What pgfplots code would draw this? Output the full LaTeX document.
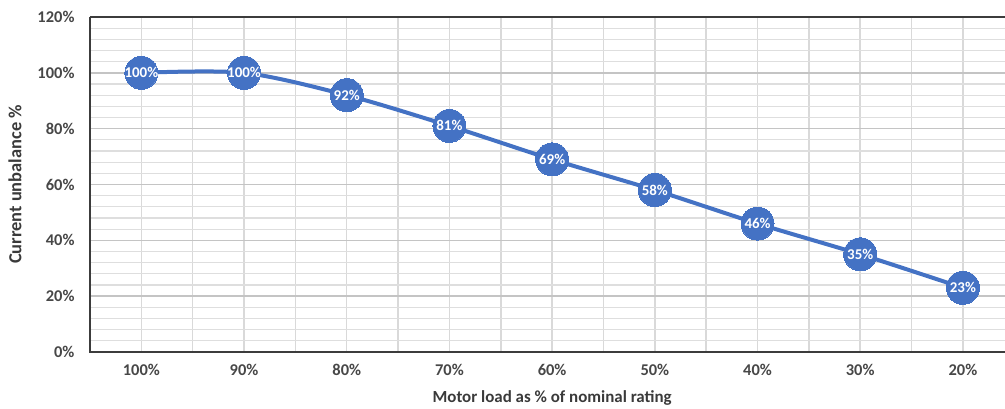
\documentclass[border=0pt]{standalone}
\usepackage{pgfplots}
\pgfplotsset{compat=1.18}
\usepackage{fontspec}
\setmainfont{Carlito}
\definecolor{series}{HTML}{4472C4}
\definecolor{majorgrid}{HTML}{C4C4C4}
\definecolor{minorgrid}{HTML}{DEDEDE}
\definecolor{vgrid}{HTML}{D9D9D9}
\definecolor{ticktext}{HTML}{474747}
\definecolor{labeltext}{HTML}{3A3A3A}
\definecolor{frame}{HTML}{3C3C3C}

\begin{document}
\begin{tikzpicture}[x=1bp,y=1bp]
\useasboundingbox (-90,-56) rectangle (915,352);
\begin{axis}[
  at={(0,0)}, anchor=south west,
  scale only axis, width=915bp, height=335bp,
  xmin=-0.5, xmax=8.41, ymin=0, ymax=120,
  xtick={0,...,8},
  xticklabels={100\%,90\%,80\%,70\%,60\%,50\%,40\%,30\%,20\%},
  minor xtick={-0.5,0.5,...,8.5},
  ytick={0,20,...,120},
  yticklabels={0\%,20\%,40\%,60\%,80\%,100\%,120\%},
  minor ytick={4,8,...,116},
  grid=both,
  major x grid style={vgrid, line width=1.5bp},
  minor x grid style={vgrid, line width=1.5bp},
  major y grid style={majorgrid, line width=1.5bp},
  minor y grid style={minorgrid, line width=1.3bp},
  major tick length=0pt, minor tick length=0pt,
  axis line style={draw=none},
  tick label style={font=\fontsize{16.5}{18}\selectfont\bfseries, text=ticktext},
  yticklabel style={xshift=-12bp},
  xticklabel style={yshift=-9bp},
  /pgf/number format/assume math mode=true,
  xlabel={Motor load as \% of nominal rating},
  ylabel={Current unbalance \%},
  xlabel style={font=\fontsize{17}{19}\selectfont\bfseries, text=labeltext,
    at={(axis description cs:0.505,0)}, anchor=center, yshift=-46bp},
  ylabel style={font=\fontsize{18.5}{20}\selectfont\bfseries, text=labeltext,
    at={(axis description cs:-0.082,0.5)}, anchor=center},
  clip=false,
]
\addplot[
  color=series, line width=4bp, smooth, tension=0.5,
  mark=*, mark size=16.5bp,
  mark options={fill=series, draw=series, line width=0pt},
  nodes near coords={\pgfmathprintnumber{\pgfplotspointmeta}\%},
  every node near coord/.append style={anchor=center, text=white,
    font=\fontsize{15}{17}\selectfont\bfseries},
] coordinates {
  (0,100) (1,100) (2,92) (3,81) (4,69) (5,58) (6,46) (7,35) (8,23)
};
\end{axis}
% frame on the left, top and bottom
\draw[frame, line width=1.6bp] (0,335) -- (915,335);
\draw[frame, line width=1.8bp] (0,0) -- (0,335);
\draw[frame, line width=2.6bp] (-0.9,0) -- (915,0);
\end{tikzpicture}
\end{document}
